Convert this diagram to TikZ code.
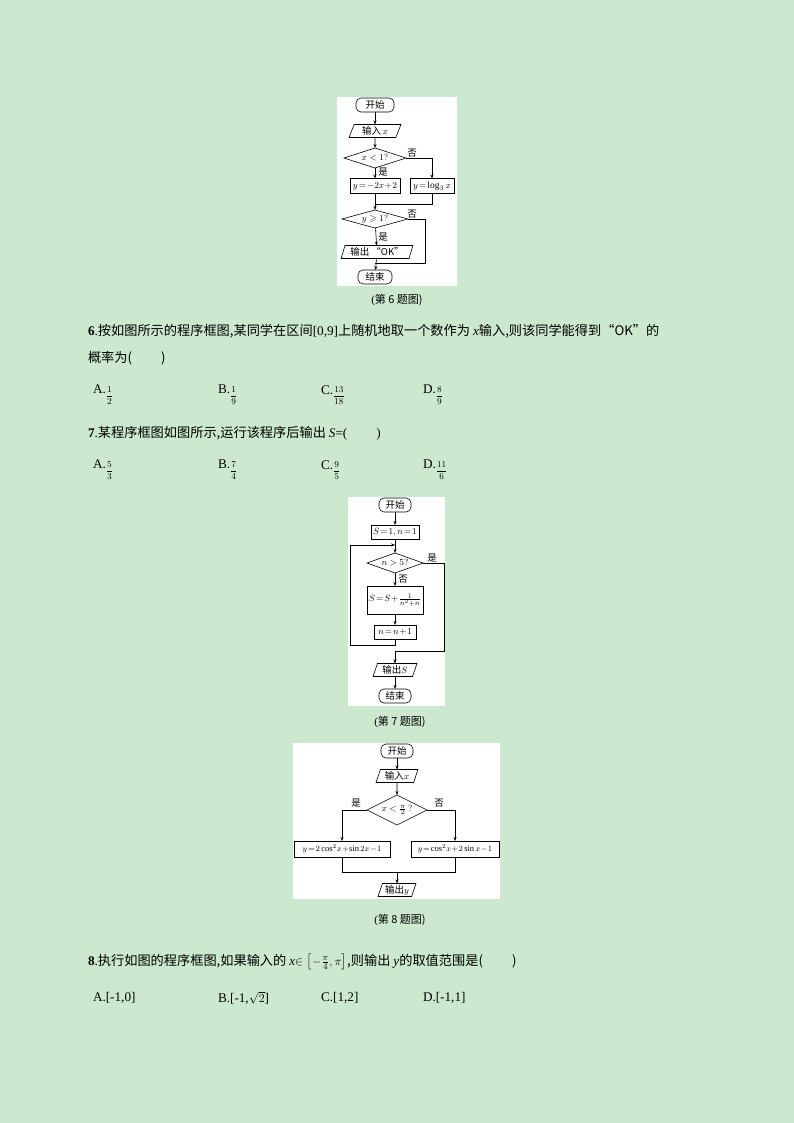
\documentclass[tikz,border=0pt]{standalone}
\usepackage{fontspec}
\usepackage{amsmath,amssymb}
\setmainfont{Liberation Serif}
\newfontfamily\cjk{Noto Sans CJK SC}
\usetikzlibrary{shapes.geometric,arrows.meta}
\definecolor{bg}{RGB}{204,232,207}
\newcommand{\fr}[2]{\raisebox{-0.35em}{\fontsize{9}{9}\selectfont$\genfrac{}{}{0.4pt}{0}{#1}{#2}$}}
\begin{document}
\begin{tikzpicture}[x=1pt,y=-1pt,
  every node/.style={inner sep=0pt,outer sep=0pt},
  fs/.style={font=\fontsize{9.5}{10}\selectfont},
  term/.style={fs,draw,rounded corners=5pt,minimum height=14pt,line width=0.6pt},
  proc/.style={fs,draw,minimum height=15pt,line width=0.6pt},
  io/.style={fs,draw,trapezium,trapezium left angle=70,trapezium right angle=110,trapezium stretches=true,minimum height=13pt,line width=0.6pt},
  dec/.style={fs,draw,diamond,aspect=3,line width=0.6pt},
  lbl/.style={fs},
  ln/.style={line width=0.6pt},
  ar/.style={line width=0.6pt,-{Stealth[length=4pt,width=3pt]}},
  txt/.style={anchor=west,font=\fontsize{13.2}{15}\selectfont},
  capt/.style={font=\fontsize{11}{12}\selectfont}]
\fill[bg] (0,0) rectangle (794,1123);
\useasboundingbox (0,0) rectangle (794,1123);
% ---- Figure 6
\fill[white] (337,97) rectangle (457,286);
\node[term,minimum width=38pt] (a1) at (375,105) {\cjk 开始};
\node[io,minimum width=52pt] (a2) at (375,131) {\cjk 输入\,$x$};
\node[dec,minimum width=62pt,minimum height=20pt] (a3) at (375,158) {$x<1?$};
\node[proc,minimum width=50pt] (a4) at (375,186) {$y\!=\!-2x\!+\!2$};
\node[proc,minimum width=44pt] (a5) at (432,186) {$y\!=\!\log_3x$};
\node[dec,minimum width=66pt,minimum height=18pt] (a6) at (375,219) {$y\geqslant1?$};
\node[io,minimum width=72pt] (a7) at (377,252) {\cjk 输出\ “OK”};
\node[term,minimum width=34pt] (a8) at (375,277) {\cjk 结束};
\coordinate (m1) at (375,204);
\coordinate (m2) at (375,263);
\draw[ar] (a1) -- (a2);
\draw[ar] (a2) -- (a3);
\draw[ar] (a3) -- (a4);
\draw[ar] (a3.east) -| (a5.north);
\draw[ar] (a4) -- (a6);
\draw[ln] (a5.south) |- (m1);
\draw[ar] (a6) -- (a7);
\draw[ln] (a6.east) -| (425,263) -- (m2);
\draw[ar] (a7) -- (a8);
\node[lbl] at (412,153) {\cjk 否};
\node[lbl] at (383,172) {\cjk 是};
\node[lbl] at (412,214) {\cjk 否};
\node[lbl] at (383,237) {\cjk 是};
\node[capt] at (397,300) {(\cjk 第 6 题图)};
% ---- Text 6/7
\node[txt] at (88,331) {\textbf{6}.\cjk 按如图所示的程序框图,某同学在区间\rmfamily[0,9]\cjk 上随机地取一个数作为 \rmfamily\textit{x}\cjk 输入,则该同学能得到“OK”的};
\node[txt] at (88,358) {\cjk 概率为(\hspace{2.2em})};
\node[txt] at (93,395) {A.\fr{1}{2}};
\node[txt] at (218,395) {B.\fr{1}{9}};
\node[txt] at (321,395) {C.\fr{13}{18}};
\node[txt] at (423,395) {D.\fr{8}{9}};
\node[txt] at (88,433) {\textbf{7}.\cjk 某程序框图如图所示,运行该程序后输出 \rmfamily\textit{S}=(\hspace{2.2em})};
\node[txt] at (93,470) {A.\fr{5}{3}};
\node[txt] at (218,470) {B.\fr{7}{4}};
\node[txt] at (321,470) {C.\fr{9}{5}};
\node[txt] at (423,470) {D.\fr{11}{6}};
% ---- Figure 7
\fill[white] (348,497) rectangle (445,706);
\node[term,minimum width=32pt] (b1) at (395,505) {\cjk 开始};
\node[proc,minimum width=48pt,minimum height=14pt] (b2) at (395,532) {$S\!=\!1,n\!=\!1$};
\node[dec,minimum width=56pt,minimum height=20pt] (b3) at (395,563) {$n>5?$};
\node[proc,minimum width=56pt,minimum height=28pt] (b4) at (395,600) {$S\!=\!S\!+\!\frac{1}{n^2+n}$};
\node[proc,minimum width=42pt,minimum height=14pt] (b5) at (395,632) {$n\!=\!n\!+\!1$};
\node[io,minimum width=44pt] (b6) at (395,670) {\cjk 输出\rmfamily$S$};
\node[term,minimum width=32pt] (b7) at (395,696) {\cjk 结束};
\coordinate (c1) at (395,545);
\coordinate (c2) at (395,651);
\draw[ar] (b1) -- (b2);
\draw[ar] (b2) -- (b3);
\draw[ar] (b3) -- (b4);
\draw[ar] (b4) -- (b5);
\draw[ar] (b5.south) -- (395,645) -| (350,545) -- (c1);
\draw[ln] (b3.east) -| (444,651) -- (c2);
\draw[ar] (c2) -- (b6);
\draw[ar] (b6) -- (b7);
\node[lbl] at (432,558) {\cjk 是};
\node[lbl] at (403,579) {\cjk 否};
\node[capt] at (400,722) {(\cjk 第 7 题图)};
% ---- Figure 8
\fill[white] (293,743) rectangle (500,899);
\node[term,minimum width=32pt] (d1) at (397,751) {\cjk 开始};
\node[io,minimum width=42pt] (d2) at (397,776) {\cjk 输入\rmfamily$x$};
\node[dec,minimum width=58pt,minimum height=30pt] (d3) at (397,810) {$x<\frac{\pi}{2}\,?$};
\node[proc,minimum width=96pt,minimum height=16pt,font=\fontsize{8.5}{9}\selectfont] (d4) at (342,849) {$y\!=\!2\cos^2\!x\!+\!\sin 2x\!-\!1$};
\node[proc,minimum width=88pt,minimum height=16pt,font=\fontsize{8.5}{9}\selectfont] (d5) at (455,849) {$y\!=\!\cos^2\!x\!+\!2\sin x\!-\!1$};
\node[io,minimum width=38pt] (d6) at (397,890) {\cjk 输出\rmfamily$y$};
\coordinate (e1) at (397,872);
\draw[ar] (d1) -- (d2);
\draw[ar] (d2) -- (d3);
\draw[ar] (d3.west) -| (d4.north);
\draw[ar] (d3.east) -| (d5.north);
\draw[ln] (d4.south) |- (e1) -| (d5.south);
\draw[ar] (e1) -- (d6);
\node[lbl] at (356,803) {\cjk 是};
\node[lbl] at (439,803) {\cjk 否};
\node[capt] at (400,920) {(\cjk 第 8 题图)};
% ---- Text 8
\node[txt] at (88,962) {\textbf{8}.\cjk 执行如图的程序框图,如果输入的 \rmfamily\textit{x}$\in\left[-\frac{\pi}{4},\pi\right]$\cjk ,则输出 \rmfamily\textit{y}\cjk 的取值范围是(\hspace{2.2em})};
\node[txt] at (93,998) {A.[-1,0]};
\node[txt] at (218,998) {B.[-1,$\sqrt{2}$]};
\node[txt] at (321,998) {C.[1,2]};
\node[txt] at (423,998) {D.[-1,1]};
\end{tikzpicture}
\end{document}
